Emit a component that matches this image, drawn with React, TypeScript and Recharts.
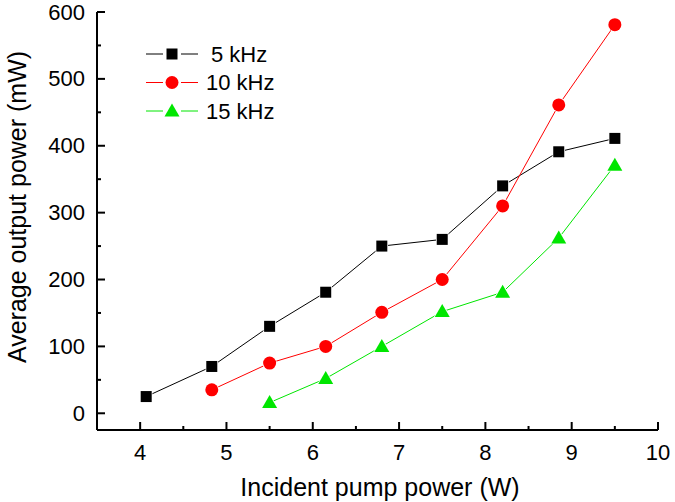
import React from 'react';
import { LineChart, Line, XAxis, YAxis, Legend } from 'recharts';

const pump5 = [4.07, 4.83, 5.5, 6.15, 6.8, 7.5, 8.2, 8.85, 9.5];
const power5 = [25, 70, 130, 181, 250, 260, 340, 391, 411];
const pump10 = [4.83, 5.5, 6.15, 6.8, 7.5, 8.2, 8.85, 9.5];
const power10 = [35, 75, 100, 151, 200, 310, 461, 581];
const pump15 = [5.5, 6.15, 6.8, 7.5, 8.2, 8.85, 9.5];
const power15 = [16, 52, 100, 152, 181, 262, 371];

const xTicks = [4, 4.5, 5, 5.5, 6, 6.5, 7, 7.5, 8, 8.5, 9, 9.5, 10];
const yTicks = [0, 50, 100, 150, 200, 250, 300, 350, 400, 450, 500, 550, 600];
const seriesNames = ['5 kHz', '10 kHz', '15 kHz'];
const colors = ['#000000', '#ff0000', '#00e600'];

const toRows = (xs: number[], ys: number[]) => xs.map((x, i) => ({ x, y: ys[i] }));
const data5 = toRows(pump5, power5);
const data10 = toRows(pump10, power10);
const data15 = toRows(pump15, power15);

const FONT = 'Liberation Sans, Arial, sans-serif';

const Square = (p: any) => (
  <rect key={p.key ?? `s${p.index}`} x={p.cx - 5.5} y={p.cy - 5.5} width={11} height={11} fill="#000" stroke="#fff" strokeWidth={1.5} paintOrder="stroke" />
);
const Circle = (p: any) => (
  <circle key={p.key ?? `c${p.index}`} cx={p.cx} cy={p.cy} r={6.5} fill="#ff0000" stroke="#fff" strokeWidth={1.5} paintOrder="stroke" />
);
const Tri = (p: any) => (
  <path key={p.key ?? `t${p.index}`} d={`M${p.cx},${p.cy - 7.5} L${p.cx + 7.5},${p.cy + 5.5} L${p.cx - 7.5},${p.cy + 5.5} Z`} fill="#00e600" stroke="#fff" strokeWidth={1.5} paintOrder="stroke" />
);

const XTick = (props: any) => {
  const { x, y, payload } = props;
  const major = Number.isInteger(payload.value);
  return (
    <g>
      <line x1={x} x2={x} y1={y} y2={y - (major ? 8 : 4)} stroke="#000" strokeWidth={2} />
      {major && (
        <text x={x} y={y + 30} textAnchor="middle" fontSize={22} fontFamily={FONT} fill="#000">
          {payload.value}
        </text>
      )}
    </g>
  );
};

const YTick = (props: any) => {
  const { x, y, payload } = props;
  const major = payload.value % 100 === 0;
  return (
    <g>
      <line x1={x} x2={x + (major ? 8 : 4)} y1={y} y2={y} stroke="#000" strokeWidth={2} />
      {major && (
        <text x={x - 12} y={y} textAnchor="end" dominantBaseline="central" fontSize={22} fontFamily={FONT} fill="#000">
          {payload.value}
        </text>
      )}
    </g>
  );
};

const LegendContent = () => {
  const markers = [
    (cx: number, cy: number) => <rect x={cx - 5.5} y={cy - 5.5} width={11} height={11} fill="#000" />,
    (cx: number, cy: number) => <circle cx={cx} cy={cy} r={6.5} fill="#ff0000" />,
    (cx: number, cy: number) => <path d={`M${cx},${cy - 7.5} L${cx + 7.5},${cy + 5.5} L${cx - 7.5},${cy + 5.5} Z`} fill="#00e600" />,
  ];
  return (
    <svg width={160} height={90} style={{ overflow: 'visible', display: 'block' }}>
      {seriesNames.map((name, i) => {
        const cy = 12 + i * 28.5;
        return (
          <g key={name}>
            <line x1={0} x2={17} y1={cy} y2={cy} stroke={colors[i]} strokeWidth={1} />
            <line x1={35} x2={52} y1={cy} y2={cy} stroke={colors[i]} strokeWidth={1} />
            {markers[i](26, cy)}
            <text x={i === 0 ? 65 : 60} y={cy} dominantBaseline="central" fontSize={22} fontFamily={FONT} fill="#000">
              {name}
            </text>
          </g>
        );
      })}
    </svg>
  );
};

export default function App() {
  return (
    <div style={{ position: 'absolute', left: 0, top: 0, width: 675, height: 502, background: '#fff' }}>
      <LineChart width={675} height={502} margin={{ top: 12, right: 17, left: 0, bottom: 0 }}>
        <XAxis
          type="number"
          dataKey="x"
          domain={[3.5, 10]}
          ticks={xTicks}
          allowDataOverflow
          height={72}
          tickSize={0}
          tickMargin={0}
          tickLine={false}
          axisLine={{ stroke: '#000', strokeWidth: 2 }}
          tick={<XTick />}
          interval={0}
          label={{
            content: () => (
              <text x={380} y={496} textAnchor="middle" fontSize={25} fontFamily={FONT} fill="#000">
                Incident pump power (W)
              </text>
            ),
          }}
        />
        <YAxis
          type="number"
          dataKey="y"
          domain={[-25, 600]}
          ticks={yTicks}
          allowDataOverflow
          width={97}
          tickSize={0}
          tickMargin={0}
          tickLine={false}
          axisLine={{ stroke: '#000', strokeWidth: 2 }}
          tick={<YTick />}
          interval={0}
          label={{
            content: () => (
              <text transform="translate(17,207) rotate(-90)" textAnchor="middle" dominantBaseline="central" fontSize={25} fontFamily={FONT} fill="#000">
                Average output power (mW)
              </text>
            ),
          }}
        />
        <Legend
          layout="vertical"
          align="center"
          verticalAlign="middle"
          wrapperStyle={{ left: 146, top: 42, width: 160, height: 90 }}
          content={<LegendContent />}
        />
        <Line data={data5} dataKey="y" name={seriesNames[0]} stroke={colors[0]} strokeWidth={1} dot={Square} activeDot={false} isAnimationActive={false} />
        <Line data={data10} dataKey="y" name={seriesNames[1]} stroke={colors[1]} strokeWidth={1} dot={Circle} activeDot={false} isAnimationActive={false} />
        <Line data={data15} dataKey="y" name={seriesNames[2]} stroke={colors[2]} strokeWidth={1} dot={Tri} activeDot={false} isAnimationActive={false} />
      </LineChart>
    </div>
  );
}
